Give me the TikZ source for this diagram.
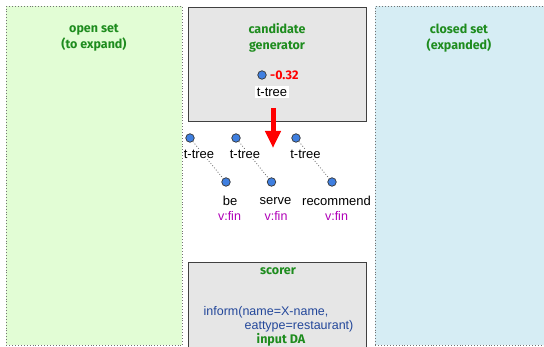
\documentclass[tikz,border=0pt]{standalone}
\usepackage{fontspec}
\setmainfont{Liberation Sans}
\newfontfamily\firafont{Fira Sans}
\usetikzlibrary{arrows.meta}
\definecolor{opengreen}{HTML}{E2FDD5}
\definecolor{closedblue}{HTML}{D6EDF4}
\definecolor{boxgray}{HTML}{E6E6E6}
\definecolor{titlegreen}{HTML}{1E8C1E}
\definecolor{fincolor}{HTML}{B000B8}
\definecolor{dablue}{HTML}{23479A}
\definecolor{nodeblue}{HTML}{3F7FE0}
\begin{document}
\begin{tikzpicture}[x=1pt,y=-1pt,
  setbox/.style={draw=black!55, dotted, line width=0.9pt, inner sep=0pt, anchor=north west},
  compbox/.style={draw=black!75, line width=1.3pt, fill=boxgray, inner sep=0pt, anchor=north west},
  title/.style={font=\firafont\bfseries\fontsize{12.5}{16}\selectfont, text=titlegreen, align=center, inner sep=0pt},
  tnode/.style={circle, draw=black!80, fill=nodeblue, line width=0.7pt, minimum size=8.5pt, inner sep=0pt},
  ttext/.style={font=\fontsize{13}{15}\selectfont, inner sep=0.5pt},
  fin/.style={font=\fontsize{12.5}{15}\selectfont, text=fincolor, inner sep=0pt},
  dep/.style={draw=black!60, dotted, line width=0.8pt}
]
\useasboundingbox (0,0) rectangle (544,347);
\fill[white] (0,0) rectangle (544,347);

% set boxes
\node[setbox, fill=opengreen, minimum width=176pt, minimum height=339pt] (open) at (6,6) {};
\node[setbox, fill=closedblue, minimum width=175pt, minimum height=339pt] (closed) at (375,6) {};

% component boxes
\node[compbox, minimum width=178pt, minimum height=114pt] (gen) at (188,7) {};
\node[compbox, minimum width=178pt, minimum height=95pt] (scorer) at (188,262) {};

% titles
\node[title] (opentitle) at (94,38) {open set\\(to expand)};
\node[title] (closedtitle) at (459,38) {closed set\\(expanded)};
\node[title] (gentitle) at (277,38) {candidate\\generator};
\node[title] (scorertitle) at (278,271) {scorer};
\node[title] (datitle) at (281,340) {input DA};

% candidate in generator
\node[tnode] (cand) at (262,75) {};
\node[font=\firafont\bfseries\fontsize{12.5}{14}\selectfont, text=red, anchor=west, inner sep=0pt] (score) at (270,75) {-0.32};
\node[ttext, fill=white, inner sep=1.5pt] (candtree) at (272,92) {t-tree};

% red arrow
\coordinate (arrstart) at (273,108);
\coordinate (arrend) at (273,148);
\draw[red, line width=5pt, -{Triangle[width=15pt,length=17pt]}] (arrstart) -- (arrend);

% successor trees
\node[tnode] (r1) at (190,138) {};
\node[tnode] (r2) at (236,138) {};
\node[tnode] (r3) at (296,138) {};
\node[tnode] (c1) at (226,182) {};
\node[tnode] (c2) at (271.5,182) {};
\node[tnode] (c3) at (332,182) {};
\draw[dep] (r1) -- (c1);
\draw[dep] (r2) -- (c2);
\draw[dep] (r3) -- (c3);
\node[ttext, fill=white] (l1) at (199,154) {t-tree};
\node[ttext, fill=white] (l2) at (245,154) {t-tree};
\node[ttext, fill=white] (l3) at (305.5,154) {t-tree};
\node[ttext] (w1) at (230,201) {be};
\node[ttext] (w2) at (275.5,201) {serve};
\node[ttext] (w3) at (336.5,201) {recommend};
\node[fin] (f1) at (229.5,215.5) {v:fin};
\node[fin] (f2) at (276,215.5) {v:fin};
\node[fin] (f3) at (336.5,215.5) {v:fin};

% input DA
\node[font=\fontsize{12.5}{14}\selectfont, text=dablue, inner sep=0pt] (da1) at (266,312) {inform(name=X-name,};
\node[font=\fontsize{12.5}{14}\selectfont, text=dablue, inner sep=0pt] (da2) at (299,326) {eattype=restaurant)};
\end{tikzpicture}
\end{document}
